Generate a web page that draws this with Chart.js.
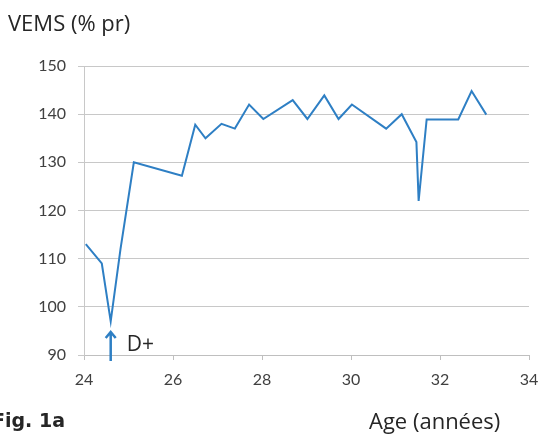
<!DOCTYPE html>
<html>
<head>
<meta charset="utf-8">
<script src="https://cdn.jsdelivr.net/npm/chart.js@4"></script>
<style>
  html, body { margin: 0; padding: 0; background: #fff; }
  #wrap { width: 541px; height: 443px; }
</style>
</head>
<body>
<div id="wrap"><canvas id="vems-chart" width="541" height="443"></canvas></div>
<script>
const ages = [24.04, 24.4, 24.6, 24.82, 25.12, 26.2, 26.5, 26.73, 27.09, 27.39, 27.71, 28.03, 28.69, 29.02, 29.4, 29.72, 30.02, 30.79, 31.14, 31.47, 31.52, 31.7, 32.41, 32.71, 33.04]
const vems = [113, 109, 97, 112, 130, 127.2, 137.8, 135, 138, 137, 142, 139, 142.9, 139, 143.9, 139, 142, 137, 140, 134.2, 122, 138.9, 138.9, 144.8, 139.9]
const yTicks = [90, 100, 110, 120, 130, 140, 150]
const xTicks = [24, 26, 28, 30, 32, 34]
const eventAge = 24.6
const eventLabel = 'D+'

const points = ages.map((a, i) => ({x: a, y: vems[i]}))
const blue = '#2e7fc4'

// texts around the plot + D+ arrow
const extras = {
    id: 'extras',
    afterDraw(chart) {
        const ctx = chart.ctx
        const xs = chart.scales.x
        ctx.save()
        ctx.fillStyle = '#262626'
        ctx.textBaseline = 'middle'
        ctx.font = '22px "Open Sans", sans-serif'
        ctx.fillText('VEMS (% pr)', 8, 25)
        ctx.font = 'bold 19px "DejaVu Sans", sans-serif'
        ctx.fillText('Fig. 1a', -8, 422)
        ctx.font = '22px "Open Sans", sans-serif'
        ctx.fillText('Age (années)', 369, 423)

        // arrow
        const ax = xs.getPixelForValue(eventAge)
        ctx.strokeStyle = blue
        ctx.lineWidth = 2.5
        ctx.beginPath()
        ctx.moveTo(ax, 361)
        ctx.lineTo(ax, 332)
        ctx.moveTo(ax - 5, 338)
        ctx.lineTo(ax, 332)
        ctx.lineTo(ax + 5, 338)
        ctx.stroke()
        ctx.font = '21px "Open Sans", sans-serif'
        ctx.fillStyle = '#262626'
        ctx.fillText(eventLabel, ax + 16, 345)
        ctx.restore()
    }
}

new Chart(document.getElementById('vems-chart'), {
    type: 'line',
    data: {
        datasets: [
            {
                data: points,
                borderColor: blue,
                borderWidth: 2,
                pointRadius: 0,
                tension: 0,
                fill: false
            }
        ]
    },
    options: {
        responsive: false,
        animation: false,
        layout: { padding: { left: 0, right: 12, top: 66, bottom: 58 } },
        plugins: { legend: { display: false }, tooltip: { enabled: false } },
        scales: {
            x: {
                type: 'linear',
                min: 24,
                max: 34,
                afterBuildTicks: s => { s.ticks = xTicks.map(v => ({value: v})) },
                afterFit: s => { s.height = 30; s.paddingLeft = 0; s.paddingRight = 0 },
                grid: { drawOnChartArea: false, tickLength: 5, color: '#bfbfbf' },
                border: { color: '#bfbfbf' },
                ticks: { color: '#404040', font: { family: 'Lato', size: 16 }, padding: 10 }
            },
            y: {
                min: 90,
                max: 150,
                afterBuildTicks: s => { s.ticks = yTicks.map(v => ({value: v})) },
                afterFit: s => { s.width = 84 },
                grid: { color: '#c8c8c8', tickLength: 6 },
                border: { color: '#c8c8c8' },
                ticks: { color: '#404040', font: { family: 'Lato', size: 16 }, padding: 12 }
            }
        }
    },
    plugins: [extras]
});
</script>
</body>
</html>
